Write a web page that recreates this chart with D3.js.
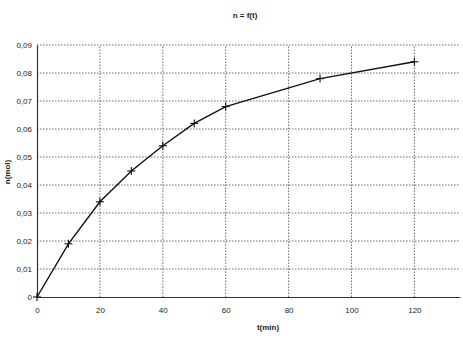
<!DOCTYPE html>
<html>
<head>
<meta charset="utf-8">
<script src="https://cdn.jsdelivr.net/npm/d3@7"></script>
<style>
  body { margin: 0; background: #fff; }
  text { font-family: "Liberation Sans", Arial, sans-serif; fill: #222; }
</style>
</head>
<body>
<div id="chart"></div>
<script>
// data
const times = [0, 10, 20, 30, 40, 50, 60, 90, 120];
const moles = [0, 0.019, 0.034, 0.045, 0.054, 0.062, 0.068, 0.078, 0.084];
const xTicks = [0, 20, 40, 60, 80, 100, 120];
const yTicks = [0, 0.01, 0.02, 0.03, 0.04, 0.05, 0.06, 0.07, 0.08, 0.09];

const width = 463, height = 339;
const margin = {top: 45, right: 3, bottom: 42, left: 37};

const svg = d3.select("#chart").append("svg")
    .attr("width", width)
    .attr("height", height);

const x = d3.scaleLinear()
    .domain([0, 134.5])
    .range([margin.left, width - margin.right]);

const y = d3.scaleLinear()
    .domain([0, 0.09])
    .range([height - margin.bottom, margin.top]);

const fmt = v => v === 0 ? "0" : d3.format(".2f")(v).replace(".", ",");

// grid
svg.append("g")
    .selectAll("line")
    .data(yTicks.slice(1))
    .enter().append("line")
    .attr("x1", x(0)).attr("x2", width - margin.right)
    .attr("y1", d => y(d)).attr("y2", d => y(d))
    .attr("stroke", "#444")
    .attr("stroke-width", 0.8)
    .attr("stroke-dasharray", "1.5,1.5");

svg.append("g")
    .selectAll("line")
    .data(xTicks.slice(1))
    .enter().append("line")
    .attr("x1", d => x(d)).attr("x2", d => x(d))
    .attr("y1", y(0)).attr("y2", y(0.09))
    .attr("stroke", "#444")
    .attr("stroke-width", 0.8)
    .attr("stroke-dasharray", "1.5,1.5");

// axes
svg.append("g")
    .attr("transform", `translate(0,${y(0)})`)
    .call(d3.axisBottom(x).tickValues(xTicks).tickSize(0).tickPadding(10).tickFormat(d3.format("d")))
    .call(g => g.select(".domain").attr("stroke", "#333").attr("stroke-width", 1.2))
    .call(g => g.selectAll("text").attr("font-size", 8).attr("fill", "#222"));

svg.append("g")
    .attr("transform", `translate(${x(0)},0)`)
    .call(d3.axisLeft(y).tickValues(yTicks).tickSize(0).tickPadding(5).tickFormat(fmt))
    .call(g => g.select(".domain").attr("stroke", "#333").attr("stroke-width", 1.2))
    .call(g => g.selectAll("text").attr("font-size", 8).attr("fill", "#222"));

// curve
const pts = times.map((t, i) => [t, moles[i]]);

svg.append("path")
    .datum(pts)
    .attr("fill", "none")
    .attr("stroke", "#111")
    .attr("stroke-width", 1.4)
    .attr("d", d3.line().x(d => x(d[0])).y(d => y(d[1])));

// + markers
const s = 4;
const marks = svg.append("g").selectAll("g")
    .data(pts)
    .enter().append("g")
    .attr("transform", d => `translate(${x(d[0])},${y(d[1])})`);
marks.append("line").attr("x1", -s).attr("x2", s).attr("stroke", "#111").attr("stroke-width", 1.1);
marks.append("line").attr("y1", -s).attr("y2", s).attr("stroke", "#111").attr("stroke-width", 1.1);

// titles
svg.append("text")
    .attr("x", 245).attr("y", 18)
    .attr("text-anchor", "middle")
    .attr("font-size", 8).attr("font-weight", "bold")
    .text("n = f(t)");

svg.append("text")
    .attr("x", 268).attr("y", 330)
    .attr("text-anchor", "middle")
    .attr("font-size", 8).attr("font-weight", "bold")
    .text("t(min)");

svg.append("text")
    .attr("transform", "translate(10,172) rotate(-90)")
    .attr("text-anchor", "middle")
    .attr("font-size", 8).attr("font-weight", "bold")
    .text("n(mol)");
</script>
</body>
</html>
